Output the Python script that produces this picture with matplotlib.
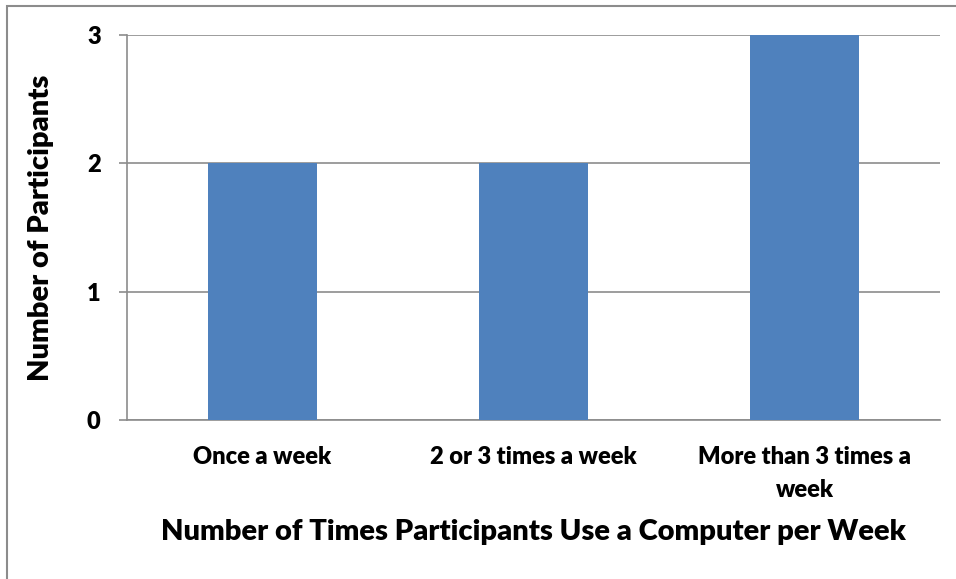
import matplotlib.pyplot as plt
from matplotlib.patches import Rectangle

categories = ["Once a week", "2 or 3 times a week", "More than 3 times a\nweek"]
participants = [2, 2, 3]
yticks = [0, 1, 2, 3]

plt.rcParams['font.family'] = ['Lato', 'DejaVu Sans']

fig = plt.figure(figsize=(9.56, 5.79), dpi=100)
ax = fig.add_axes([127 / 956, 1 - 420 / 579, (940 - 127) / 956, (420 - 35) / 579])

x = range(len(categories))
ax.bar(x, participants, width=0.4, color="#4F81BD", zorder=3)

ax.set_xlim(-0.5, len(categories) - 0.5)
ax.set_ylim(0, 3)
ax.set_yticks(yticks)
ax.set_xticks(list(x))
ax.set_xticklabels(categories, fontsize=17, fontweight="heavy", linespacing=1.6)
ax.set_yticklabels([str(v) for v in yticks], fontsize=17, fontweight="heavy")

ax.yaxis.grid(True, color="#8C8C8C", linewidth=1.2, zorder=0)
ax.tick_params(axis="y", length=6, width=1.2, color="#8C8C8C", pad=13)
ax.tick_params(axis="x", length=0, pad=19)
for side in ("top", "right"):
    ax.spines[side].set_visible(False)
for side in ("left", "bottom"):
    ax.spines[side].set_color("#8C8C8C")
    ax.spines[side].set_linewidth(1.2)

ax.set_xlabel("Number of Times Participants Use a Computer per Week",
              fontsize=21, fontweight="heavy", labelpad=13)
ax.set_ylabel("Number of Participants", fontsize=21, fontweight="heavy", labelpad=24)

# outer chart border
fig.patches.append(Rectangle((7 / 956, -0.1), 1.2, 1.1 - 6 / 579,
                             transform=fig.transFigure, fill=False,
                             edgecolor="#8C8C8C", linewidth=1.5))

fig.savefig("out.png", dpi=100)
